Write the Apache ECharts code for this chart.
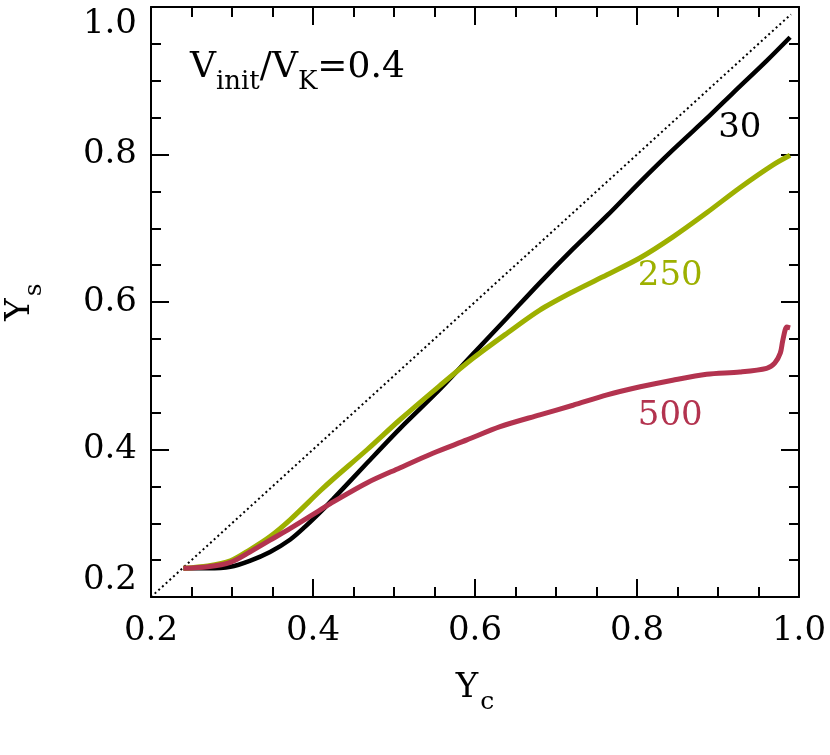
<!DOCTYPE html>
<html>
<head>
<meta charset="utf-8">
<script src="https://cdn.jsdelivr.net/npm/echarts@6/dist/echarts.min.js"></script>
<style>
  html, body { margin: 0; padding: 0; background: #fff; }
  #chart { width: 830px; height: 755px; }
</style>
</head>
<body>
<div id="chart"></div>
<script>
// Y_c, Y_s pairs
const run30 = [
  [0.240, 0.239], [0.270, 0.239], [0.298, 0.241], [0.322, 0.249], [0.347, 0.261],
  [0.372, 0.278], [0.390, 0.295], [0.409, 0.315], [0.425, 0.333], [0.467, 0.382],
  [0.507, 0.428], [0.557, 0.482], [0.598, 0.530], [0.640, 0.579], [0.680, 0.626],
  [0.721, 0.672], [0.763, 0.717], [0.804, 0.763], [0.844, 0.806], [0.890, 0.853],
  [0.919, 0.884], [0.960, 0.927], [0.989, 0.959]
];
const run250 = [
  [0.240, 0.239], [0.270, 0.242], [0.298, 0.249], [0.322, 0.264], [0.347, 0.282],
  [0.372, 0.305], [0.409, 0.344], [0.425, 0.360], [0.467, 0.400], [0.507, 0.440],
  [0.557, 0.487], [0.598, 0.524], [0.640, 0.558], [0.680, 0.589], [0.721, 0.614],
  [0.763, 0.637], [0.804, 0.660], [0.844, 0.688], [0.886, 0.721], [0.927, 0.755],
  [0.968, 0.786], [0.989, 0.799]
];
const run500 = [
  [0.240, 0.239], [0.270, 0.241], [0.298, 0.247], [0.322, 0.261], [0.347, 0.277],
  [0.372, 0.293], [0.409, 0.318], [0.425, 0.329], [0.467, 0.355], [0.507, 0.375],
  [0.548, 0.395], [0.590, 0.413], [0.631, 0.431], [0.680, 0.447], [0.721, 0.460],
  [0.763, 0.474], [0.804, 0.485], [0.844, 0.494], [0.886, 0.502], [0.927, 0.505],
  [0.960, 0.510], [0.970, 0.517], [0.977, 0.531], [0.980, 0.548], [0.985, 0.566],
  [0.989, 0.565]
];
const identity = [[0.2, 0.2], [0.99, 0.99]];
const curveLabels = [
  [0.927, 0.836, '30', '#000000'],
  [0.841, 0.635, '250', '#9db000'],
  [0.841, 0.445, '500', '#b3334f']
];

const FONT = 'DejaVu Serif';
const chart = echarts.init(document.getElementById('chart'));

function axisBase(pos, showLabel) {
  return {
    type: 'value',
    position: pos,
    min: 0.2,
    max: 1.0,
    interval: 0.2,
    axisLine: { onZero: false, lineStyle: { color: '#000', width: 2 } },
    axisTick: { inside: true, length: 18, lineStyle: { color: '#000', width: 2 } },
    minorTick: { show: true, splitNumber: 4, length: 10, lineStyle: { color: '#000', width: 2 } },
    splitLine: { show: false },
    minorSplitLine: { show: false },
    axisLabel: {
      show: showLabel,
      fontFamily: FONT,
      fontSize: 34,
      color: '#000',
      margin: 14,
      formatter: (v) => v.toFixed(1)
    }
  };
}

const nameRich = {
  a: { fontFamily: FONT, fontSize: 34, color: '#000', verticalAlign: 'top' },
  b: { fontFamily: FONT, fontSize: 25, color: '#000', verticalAlign: 'top', padding: [19, 0, 0, 2] }
};

const xBottom = axisBase('bottom', true);
xBottom.axisLabel.margin = 17;
xBottom.name = '{a|Y}{b|c}';
xBottom.nameLocation = 'middle';
xBottom.nameGap = 74;
xBottom.nameTextStyle = { rich: nameRich };

const yLeft = axisBase('left', true);
yLeft.axisLabel.verticalAlignMaxLabel = 'top';
yLeft.axisLabel.verticalAlignMinLabel = 'bottom';
yLeft.name = '{a|Y}{b|s}';
yLeft.nameLocation = 'middle';
yLeft.nameGap = 104;
yLeft.nameTextStyle = { rich: nameRich };

chart.setOption({
  backgroundColor: '#fff',
  animation: false,
  grid: { left: 151, right: 31, top: 7, bottom: 158, containLabel: false, outerBoundsMode: 'none' },
  xAxis: [xBottom, axisBase('top', false)],
  yAxis: [yLeft, axisBase('right', false)],
  graphic: [
    {
      type: 'text',
      left: 190,
      top: 50,
      style: {
        text: '{m|V}{s|init}{m|/V}{s|K}{m|=0.4}',
        rich: {
          m: { fontFamily: FONT, fontSize: 36, fill: '#000', verticalAlign: 'top' },
          s: { fontFamily: FONT, fontSize: 26, fill: '#000', verticalAlign: 'top', padding: [19, 0, 0, 0] }
        }
      }
    }
  ],
  series: [
    {
      name: 'identity',
      type: 'line',
      data: identity,
      symbol: 'none',
      lineStyle: { color: '#000', width: 2, type: [2, 3] },
      z: 1
    },
    {
      name: '30',
      type: 'line',
      data: run30,
      symbol: 'none',
      smooth: 0.3,
      lineStyle: { color: '#000000', width: 4.5 },
      z: 2
    },
    {
      name: '250',
      type: 'line',
      data: run250,
      symbol: 'none',
      smooth: 0.3,
      lineStyle: { color: '#9db000', width: 5 },
      z: 3
    },
    {
      name: '500',
      type: 'line',
      data: run500,
      symbol: 'none',
      smooth: 0.3,
      lineStyle: { color: '#b3334f', width: 5 },
      z: 4
    },
    {
      name: 'labels',
      type: 'scatter',
      symbolSize: 0,
      itemStyle: { opacity: 1 },
      data: curveLabels.map((d) => ({
        value: [d[0], d[1]],
        label: {
          show: true,
          position: 'inside',
          formatter: d[2],
          color: d[3],
          fontFamily: FONT,
          fontSize: 34
        }
      })),
      z: 5
    }
  ]
});
</script>
</body>
</html>
